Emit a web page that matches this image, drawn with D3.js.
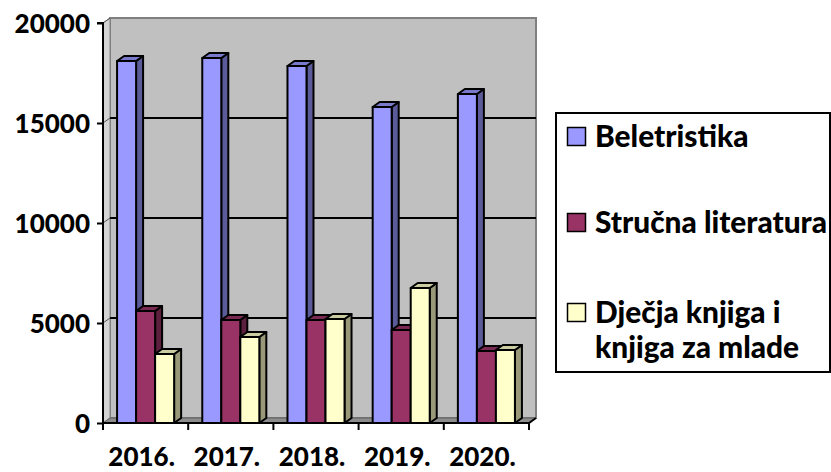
<!DOCTYPE html>
<html>
<head>
<meta charset="utf-8">
<script src="https://cdn.jsdelivr.net/npm/d3@7"></script>
<style>
  html, body { margin: 0; padding: 0; background: #fff; }
  svg { display: block; }
  text { font-family: Lato, "Open Sans", sans-serif; font-weight: 900; fill: #000; }
</style>
</head>
<body>
<svg id="chart" width="831" height="472"></svg>
<script>
const years = ["2016.", "2017.", "2018.", "2019.", "2020."];
const seriesNames = ["Beletristika", "Stručna literatura", "Dječja knjiga i knjiga za mlade"];
const beletristika = [18100, 18250, 17850, 15800, 16450];
const strucnaLiteratura = [5600, 5150, 5150, 4650, 3600];
const djecjaKnjiga = [3450, 4300, 5200, 6750, 3650];
const yTicks = [0, 5000, 10000, 15000, 20000];

const seriesValues = [beletristika, strucnaLiteratura, djecjaKnjiga];
const colors = [
  { front: "#9999FF", side: "#5B5B99", top: "#7A7ACC" },
  { front: "#993366", side: "#5C1F3D", top: "#7A2952" },
  { front: "#FFFFCC", side: "#99997A", top: "#CCCCA3" }
];

const svg = d3.select("#chart");
const left = 103, right = 529, bottom = 423, topY = 23;
const dx = 7, dy = -5;

const y = d3.scaleLinear().domain([0, 20000]).range([bottom, topY]);
const x0 = d3.scaleBand().domain(years).range([left, right]).padding(0);
const x1 = d3.scaleBand().domain(d3.range(3)).range([0, x0.bandwidth()]).paddingInner(0).paddingOuter(0.74);

// Back wall
svg.append("rect")
  .attr("x", left + dx).attr("y", topY + dy)
  .attr("width", right - left).attr("height", bottom - topY)
  .attr("fill", "#C0C0C0").attr("stroke", "#808080").attr("stroke-width", 2);

// Left side wall
svg.append("polygon")
  .attr("points", [[left, topY], [left + dx, topY + dy], [left + dx, bottom + dy], [left, bottom]].join(" "))
  .attr("fill", "#D4D4D4").attr("stroke", "#808080").attr("stroke-width", 1);

// Floor
svg.append("polygon")
  .attr("points", [[left, bottom], [left + dx, bottom + dy], [right + dx, bottom + dy], [right, bottom]].join(" "))
  .attr("fill", "#8C8C8C").attr("stroke", "#606060").attr("stroke-width", 1);

// Gridlines on back wall + side wall diagonals
const grid = svg.append("g");
yTicks.filter(t => t > 0).forEach(t => {
  grid.append("line")
    .attr("x1", left + dx).attr("x2", right + dx)
    .attr("y1", y(t) + dy).attr("y2", y(t) + dy)
    .attr("stroke", t === 20000 ? "#808080" : "#000").attr("stroke-width", 2);
  grid.append("line")
    .attr("x1", left).attr("x2", left + dx)
    .attr("y1", y(t)).attr("y2", y(t) + dy)
    .attr("stroke", "#555").attr("stroke-width", 1);
});

// Bars
const bars = svg.append("g");
years.forEach((yr, i) => {
  seriesValues.forEach((vals, s) => {
    const v = vals[i];
    const bx = x0(yr) + x1(s);
    const bw = x1.bandwidth();
    const by = y(v);
    const g = bars.append("g").attr("stroke", "#000").attr("stroke-width", 2).attr("stroke-linejoin", "round");
    g.append("polygon")
      .attr("points", [[bx + bw, by], [bx + bw + dx, by + dy], [bx + bw + dx, bottom + dy], [bx + bw, bottom]].join(" "))
      .attr("fill", colors[s].side);
    g.append("polygon")
      .attr("points", [[bx, by], [bx + dx, by + dy], [bx + bw + dx, by + dy], [bx + bw, by]].join(" "))
      .attr("fill", colors[s].top);
    g.append("rect")
      .attr("x", bx).attr("y", by).attr("width", bw).attr("height", bottom - by)
      .attr("fill", colors[s].front);
  });
});

const labelFont = sel => sel.style("font-size", "26px").style("font-family", "Lato, sans-serif").style("font-weight", "900");

// Y axis
const yAxis = d3.axisLeft(y).tickValues(yTicks).tickSize(6).tickPadding(7).tickFormat(d3.format("d"));
const ya = svg.append("g").attr("transform", `translate(${left},0)`).call(yAxis);
ya.select(".domain").attr("stroke", "#000").attr("stroke-width", 2).attr("d", `M-6,${topY}H0V${bottom}`);
ya.selectAll(".tick line").attr("stroke", "#000").attr("stroke-width", 2);
ya.selectAll(".tick text").call(labelFont).attr("dy", "0.35em");

// X axis
const xAxis = d3.axisBottom(x0).tickSize(0).tickPadding(0);
const xa = svg.append("g").attr("transform", `translate(0,${bottom})`).call(xAxis);
xa.select(".domain").attr("stroke", "#000").attr("stroke-width", 2).attr("d", `M${left},0H${right}L${right + dx},${dy}`);
xa.selectAll(".tick text").call(labelFont).attr("y", 43).attr("dy", 0).attr("dx", -4);
const boundaries = years.map(yr => x0(yr)).concat([right]);
xa.selectAll(".bticks").data(boundaries).enter().append("line")
  .attr("x1", d => d).attr("x2", d => d).attr("y1", 0).attr("y2", 7)
  .attr("stroke", "#000").attr("stroke-width", 2);

// Legend
const legend = svg.append("g");
legend.append("rect").attr("x", 556).attr("y", 113).attr("width", 274).attr("height", 259)
  .attr("fill", "#fff").attr("stroke", "#000").attr("stroke-width", 2);
const legendItems = [
  { lines: ["Beletristika"], base: 147 },
  { lines: ["Stručna literatura"], base: 233 },
  { lines: ["Dječja knjiga i", "knjiga za mlade"], base: 323 }
];
// fit legend font so that the longest entry spans the reference width
const probe = legend.append("text").style("font-size", "26px").text(legendItems[1].lines[0]);
const w26 = probe.node().getComputedTextLength();
probe.remove();
const legendSize = Math.min(30, 26 * 232 / w26);
legendItems.forEach((it, s) => {
  legend.append("rect").attr("x", 567.5).attr("y", it.base - 19.5).attr("width", 18).attr("height", 18)
    .attr("fill", colors[s].front).attr("stroke", "#000").attr("stroke-width", 1.5);
  it.lines.forEach((ln, k) => {
    legend.append("text").attr("x", 595).attr("y", it.base + k * 35)
      .style("font-size", legendSize + "px").text(ln);
  });
});
</script>
</body>
</html>
